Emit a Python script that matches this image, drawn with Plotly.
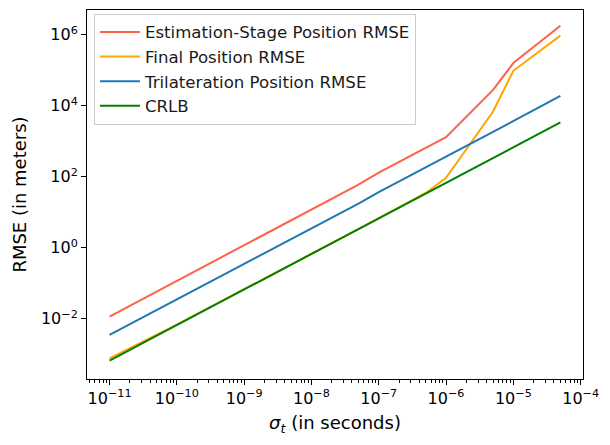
import plotly.graph_objects as go

sigma_t = [1e-11, 5e-11, 1e-10, 5e-10, 1e-9, 5e-9, 1e-8, 5e-8, 1e-7, 5e-7, 1e-6, 5e-6, 1e-5, 5e-5]

est_stage_rmse = [0.0115, 0.058, 0.116, 0.58, 1.17, 5.9, 11.8, 60, 130, 650, 1300, 28000, 160000, 1.8e6]
final_rmse = [7.6e-4, 3.5e-3, 6.8e-3, 0.034, 0.067, 0.34, 0.67, 3.35, 6.7, 35, 94, 6900, 97000, 9.5e5]
trilat_rmse = [0.0035, 0.0175, 0.035, 0.175, 0.35, 1.75, 3.5, 17.5, 37, 180, 370, 1850, 3700, 19000]
crlb = [6.6e-4, 3.3e-3, 6.6e-3, 0.033, 0.066, 0.33, 0.66, 3.3, 6.6, 33, 66, 330, 660, 3400]

series_names = ["Estimation-Stage Position RMSE", "Final Position RMSE",
                "Trilateration Position RMSE", "CRLB"]
series_colors = ["#FF6347", "#FFA500", "#1f77b4", "#008000"]

x_tickvals = [1e-11, 1e-10, 1e-9, 1e-8, 1e-7, 1e-6, 1e-5, 1e-4]
x_ticktext = ["10<sup>−11</sup>", "10<sup>−10</sup>", "10<sup>−9</sup>", "10<sup>−8</sup>",
              "10<sup>−7</sup>", "10<sup>−6</sup>", "10<sup>−5</sup>", "10<sup>−4</sup>"]
y_tickvals = [1e-2, 1e0, 1e2, 1e4, 1e6]
y_ticktext = ["10<sup>−2</sup>", "10<sup>0</sup>", "10<sup>2</sup>", "10<sup>4</sup>", "10<sup>6</sup>"]

x_minor = [m * d for d in [1e-12, 1e-11, 1e-10, 1e-9, 1e-8, 1e-7, 1e-6, 1e-5, 1e-4] for m in range(2, 10)]

fig = go.Figure()
for name, ys, col in zip(series_names, [est_stage_rmse, final_rmse, trilat_rmse, crlb], series_colors):
    fig.add_trace(go.Scatter(x=sigma_t, y=ys, mode="lines", name=name,
                             line=dict(color=col, width=2)))

font_family = "DejaVu Sans"
fig.update_layout(
    width=610, height=445,
    margin=dict(l=87, r=27, t=10, b=66),
    paper_bgcolor="white", plot_bgcolor="white",
    font=dict(family=font_family, size=16, color="black"),
    showlegend=True,
    legend=dict(x=0.014, y=0.99, xanchor="left", yanchor="top",
                bgcolor="rgba(255,255,255,0.8)", bordercolor="#cccccc", borderwidth=1,
                font=dict(family=font_family, size=16.6, color="#1a1a1a"),
                tracegroupgap=0, itemwidth=40),
    xaxis=dict(type="log", range=[-11.335, -3.965], automargin=True,
               tickvals=x_tickvals, ticktext=x_ticktext,
               ticks="outside", ticklen=5, tickwidth=1, tickcolor="black",
               tickfont=dict(size=16),
               minor=dict(tickvals=x_minor, ticks="outside", ticklen=3, tickwidth=0.8,
                          tickcolor="black", showgrid=False),
               showline=True, linecolor="black", linewidth=1, mirror=True,
               showgrid=False, zeroline=False,
               title=dict(text="<i>σ<sub>t</sub></i> (in seconds)", font=dict(size=18), standoff=9)),
    yaxis=dict(type="log", range=[-3.70, 6.70], automargin=True,
               tickvals=y_tickvals, ticktext=y_ticktext,
               ticks="outside", ticklen=5, tickwidth=1, tickcolor="black",
               tickfont=dict(size=16),
               showline=True, linecolor="black", linewidth=1, mirror=True,
               showgrid=False, zeroline=False,
               title=dict(text="RMSE (in meters)", font=dict(size=18), standoff=9)),
)

fig.write_html("out.html", config={"displayModeBar": False},
               post_script="document.body.style.margin='0';document.body.style.overflow='hidden';")
